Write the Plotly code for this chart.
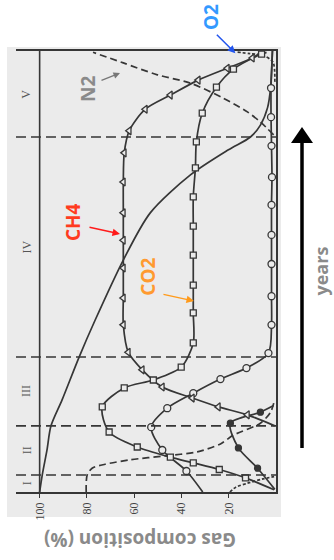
import plotly.graph_objects as go

# ---- data -------------------------------------------------------------
# time runs 0..100 (arbitrary years scale), composition in %
phase_bounds = [3.85, 15.0, 30.6, 80.5]
phase_labels = ["I", "II", "III", "IV", "V"]
phase_mid = [1.9, 9.4, 22.8, 55.6, 90.2]

pct_ticks = [100, 80, 60, 40, 20]

ch4_t = [15.0, 17.5, 19.3, 21.3, 23.8, 27.7, 31.7, 37.9, 44.0, 50.8, 57.1,
         63.3, 70.3, 76.9, 81.9, 86.8, 90.0, 93.4, 96.1, 98.4, 99.5]
ch4_pct = [0.5, 12.1, 24.4, 35.4, 48.1, 56.6, 62.5, 64.6, 64.6, 64.6, 64.6,
           64.6, 64.6, 64.2, 62.1, 55.3, 44.7, 32.9, 20.6, 10.0, 7.0]

co2_t = [0.5, 3.2, 5.1, 6.6, 7.9, 10.2, 13.6, 19.3, 23.6, 25.4, 28.3, 33.8,
         40.6, 46.9, 53.7, 60.3, 66.9, 73.5, 79.4, 85.9, 91.8, 95.9, 99.3, 99.7]
co2_pct = [0.8, 12.9, 24.0, 35.0, 44.7, 58.7, 70.6, 73.5, 64.2, 51.9, 40.1, 35.0,
           35.0, 35.0, 35.0, 35.0, 35.0, 34.1, 33.7, 31.2, 25.2, 18.0, 6.1, 4.0]

h2_t = [0.6, 5.4, 10.0, 15.6, 18.1, 19.6]
h2_pct = [0.5, 7.8, 15.9, 19.3, 6.6, 1.0]

circle_t = [0, 4.76, 9.52, 14.7, 19.0, 22.4, 25.6, 28.1, 31.5, 37.9, 44.4,
            51.7, 58.3, 65.1, 71.4, 78.5, 85.0, 91.6, 100]
circle_pct = [31.0, 37.9, 48.1, 52.8, 46.0, 35.0, 23.5, 12.5, 3.2, 1.9, 1.9,
              1.9, 1.9, 1.9, 1.7, 1.9, 2.1, 2.1, 1.5]

plain_t = [0, 3.85, 9.5, 15.0, 20.9, 30.6, 39.0, 52.6, 63.3, 71.9, 77.6,
           80.5, 83.2, 87.1, 91.6, 100]
plain_pct = [100, 98.9, 96.9, 95.2, 90.5, 83.3, 76.5, 64.6, 53.2, 36.2, 20.1,
             10.8, 6.6, 3.6, 2.3, 1.5]

n2_early_t = [0, 3.85, 5.4, 6.3, 7.3, 8.2, 9.1, 10.9, 12.9, 15.6, 18.1, 20.9]
n2_early_pct = [80.3, 79.9, 77.8, 72.3, 61.7, 46.9, 33.3, 23.5, 18.0, 6.6, 2.3, 0.6]
n2_late_t = [81.0, 83.9, 86.2, 89.3, 92.7, 94.6, 97.3, 99.7]
n2_late_pct = [1.0, 6.6, 12.1, 22.3, 36.2, 50.2, 64.6, 77.4]

o2_early_t = [0, 1.1, 2.0, 2.9, 3.5]
o2_early_pct = [19.5, 17.0, 12.0, 6.0, 0.8]
o2_late_t = [93.0, 97.5, 99.0, 99.4, 99.8]
o2_late_pct = [0.5, 1.3, 5.5, 11.0, 17.0]

# ---- styling ----------------------------------------------------------
INK = "#363636"
SHEET = "#ebebeb"
GREY_TXT = "#8a8a8a"
SERIF = "Liberation Serif, DejaVu Serif, serif"
SANS = "Open Sans, Noto Sans, sans-serif"

# plot-area geometry in pixels (used to place paper-referenced items)
PL, PW, PT, PH = 16, 260, 51, 441


def px(x):
    return (x - PL) / PW


def py(y):
    return (PT + PH - y) / PH


fig = go.Figure()


def curve(t, pct, dash="solid", width=1.7):
    fig.add_trace(go.Scatter(
        x=pct, y=t, mode="lines", line=dict(color=INK, width=width, dash=dash,
                                            shape="spline", smoothing=0.8),
        hoverinfo="skip", showlegend=False))


def marks(t, pct, symbol, size=7, fill=SHEET):
    fig.add_trace(go.Scatter(
        x=pct, y=t, mode="markers",
        marker=dict(symbol=symbol, size=size, color=fill,
                    line=dict(color=INK, width=1.3)),
        hoverinfo="skip", showlegend=False, cliponaxis=False))


# gas curves
curve(plain_t, plain_pct)
curve(circle_t, circle_pct)
curve(co2_t, co2_pct)
curve(ch4_t, ch4_pct)
curve(h2_t, h2_pct)
curve(n2_early_t, n2_early_pct, dash="7px,4px")
curve(n2_late_t, n2_late_pct, dash="7px,4px")
curve(o2_early_t, o2_early_pct, dash="3px,2px")
curve(o2_late_t, o2_late_pct, dash="3px,2px")

marks(circle_t[1:-1], circle_pct[1:-1], "circle", size=7)
marks(co2_t[1:-1], co2_pct[1:-1], "square", size=6)
marks(ch4_t[1:-1], ch4_pct[1:-1], "triangle-left", size=7)
marks(h2_t[1:-1], h2_pct[1:-1], "circle", size=6, fill=INK)

shapes = []
# scanned sheet behind the chart
shapes.append(dict(type="rect", xref="paper", yref="paper",
                   x0=px(7), x1=px(281), y0=py(517), y1=py(47),
                   fillcolor=SHEET, line=dict(width=0), layer="below"))
# phase separators
for b in phase_bounds:
    shapes.append(dict(type="line", xref="x", yref="y", x0=110, x1=0, y0=b, y1=b,
                       line=dict(color=INK, width=1.6, dash="10px,5px")))
# 100 % line
shapes.append(dict(type="line", xref="x", yref="y", x0=100, x1=100, y0=0, y1=100,
                   line=dict(color=INK, width=1.6)))
# time arrow on the right
shapes.append(dict(type="line", xref="paper", yref="paper",
                   x0=px(302), x1=px(302), y0=py(448), y1=py(141),
                   line=dict(color="black", width=3.5)))
shapes.append(dict(type="path", xref="paper", yref="paper",
                   path="M {a},{b} L {c},{b} L {d},{e} Z".format(
                       a=px(291), c=px(313), d=px(302), b=py(143), e=py(127)),
                   fillcolor="black", line=dict(width=0)))

ann = []
for lab, m in zip(phase_labels, phase_mid):
    ann.append(dict(x=105.5, y=m, xref="x", yref="y", text=lab, showarrow=False,
                    textangle=-90, xanchor="center", yanchor="middle",
                    font=dict(family=SERIF, size=12, color="#555555")))


def label(text, x, y, color, ref="x", size=19):
    ann.append(dict(x=x, y=y, xref="x" if ref == "x" else "paper",
                    yref="y" if ref == "x" else "paper",
                    text="<b>%s</b>" % text, showarrow=False, textangle=-90,
                    xanchor="center", yanchor="middle", borderpad=0,
                    font=dict(family=SANS, size=size, color=color)))


def pointer(x, y, ax, ay, color, width=1.5):
    ann.append(dict(x=x, y=y, xref="x", yref="y", ax=ax, ay=ay, text="",
                    showarrow=True, arrowhead=2, arrowsize=1, arrowwidth=width,
                    arrowcolor=color, standoff=0))


label("CH4", 85.9, 61.2, "#ff3b1f")
pointer(66.0, 58.5, -32, -7, "#ff1a1a")
label("CO2", 54.2, 48.8, "#ff9a30")
pointer(34.7, 43.3, -32, -7, "#ff9a1a")
label("N2", 79.5, 91.4, GREY_TXT)
pointer(66.0, 95.0, -20, 8, "#777777", width=1.3)
label("O2", px(211), py(17), "#3399ff", ref="paper")
pointer(17.2, 99.5, -20, -20, "#2255ee")

label("years", px(320.5), py(271), GREY_TXT, ref="paper", size=18)
ann.append(dict(x=px(140), y=py(540), xref="paper", yref="paper",
                text="<b>Gas composition (%)</b>", showarrow=False, textangle=180,
                xanchor="center", yanchor="middle",
                font=dict(family=SANS, size=19, color=GREY_TXT)))

fig.update_layout(
    width=334, height=560, autosize=False,
    margin=dict(l=PL, r=334 - PL - PW, t=PT, b=560 - PT - PH, pad=0),
    paper_bgcolor="white", plot_bgcolor="rgba(0,0,0,0)",
    shapes=shapes, annotations=ann, showlegend=False,
    xaxis=dict(range=[110, 0], tickvals=pct_ticks, ticktext=[str(v) for v in pct_ticks],
               ticks="outside", ticklen=4, tickwidth=1.3, tickcolor=INK,
               tickangle=-90, tickfont=dict(family=SERIF, size=12, color="#444444"),
               showline=True, linecolor=INK, linewidth=1.6, mirror=True,
               showgrid=False, zeroline=False, fixedrange=True),
    yaxis=dict(range=[0, 100], side="right", showline=True, linecolor=INK,
               linewidth=1.6, showticklabels=False, ticks="", showgrid=False,
               zeroline=False, fixedrange=True),
)

fig.write_html("out.html")
